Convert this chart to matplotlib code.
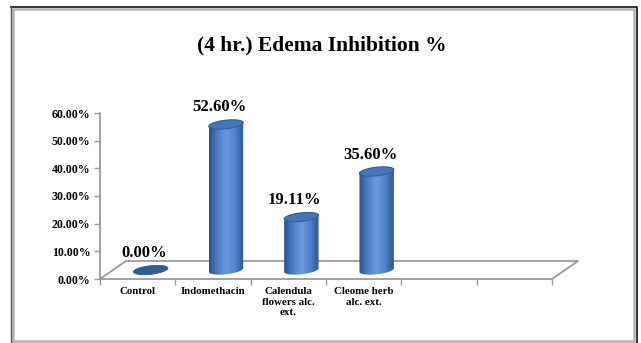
import matplotlib
matplotlib.use("Agg")
import matplotlib.pyplot as plt
import numpy as np
from matplotlib.colors import LinearSegmentedColormap
from matplotlib.patches import Polygon, Rectangle
from matplotlib.lines import Line2D

plt.rcParams['font.family'] = ['Liberation Serif', 'DejaVu Serif']
plt.rcParams['font.weight'] = 'bold'

# chart data
categories = ['Control', 'Indomethacin', 'Calendula\nflowers alc.\next.', 'Cleome herb\nalc. ext.', '', '']
values = [0.00, 52.60, 19.11, 35.60]
value_labels = ['0.00%', '52.60%', '19.11%', '35.60%']
title = '(4 hr.) Edema Inhibition %'

W, H = 641, 343
fig = plt.figure(figsize=(W / 100, H / 100), dpi=100)

# outer chart frame
fig.patches.append(Rectangle((13 / W, 1 - 341 / H), 621 / W, 332 / H, transform=fig.transFigure,
                             fill=False, edgecolor='#b4b4b4', lw=1.8))
fig.lines.append(Line2D([11 / W, 637 / W, 637 / W], [1 - 7 / H, 1 - 7 / H, 1 - 343 / H],
                        transform=fig.transFigure, color='#111111', lw=1.2))
fig.lines.append(Line2D([11 / W, 11 / W], [1 - 7 / H, 1 - 343 / H],
                        transform=fig.transFigure, color='#555555', lw=1.0))

ax = fig.add_axes([100 / W, 1 - 279 / H, 452 / W, 166 / H])
ax.set_xlim(0, 6)
ax.set_ylim(0, 60)
ax.patch.set_visible(False)
for s in ['top', 'right']:
    ax.spines[s].set_visible(False)
for s in ['left', 'bottom']:
    ax.spines[s].set_color('#9a9a9a')
    ax.spines[s].set_linewidth(1.3)

ax.set_yticks(np.arange(0, 61, 10))
ax.set_yticklabels([f'{v:.2f}%' for v in np.arange(0, 61, 10)])
ax.tick_params(axis='y', direction='out', length=4, width=1, color='#9a9a9a', pad=3,
               labelsize=8.6)
ax.set_xticks(np.arange(0, 7))
ax.set_xticklabels([])
ax.tick_params(axis='x', which='major', direction='out', length=4, width=1, color='#9a9a9a')
ax.set_xticks(np.arange(6) + 0.5, minor=True)
ax.set_xticklabels(categories, minor=True, linespacing=1.2)
ax.tick_params(axis='x', which='minor', length=0, pad=6, labelsize=7.8)

# depth of the floor in data units
dx, dy = 0.345, 6.5
ax.add_line(Line2D([0, dx, 6 + dx, 6], [0, dy, dy, 0], color='#9a9a9a', lw=1.3, clip_on=False))

r = 0.21          # cylinder half width
f = 0.26          # depth semi-axis as fraction of floor depth
a, b = f * dx, f * dy
t0 = np.arctan2(a, r)

cmap = LinearSegmentedColormap.from_list('cyl', ['#2a5287', '#4b7fc4', '#6a9be0', '#4f82c7', '#2c578f'])
grad = np.linspace(0, 1, 256).reshape(1, -1)


def ellipse_pts(cx, cy, t):
    return np.column_stack([cx + r * np.cos(t) + a * np.sin(t), cy + b * np.sin(t)])


for i, v in enumerate(values):
    cx = i + 0.5 + dx / 2
    y0 = dy / 2
    y1 = y0 + v
    if v > 0:
        top = ellipse_pts(cx, y1, np.linspace(t0, t0 + np.pi, 60))
        bot = ellipse_pts(cx, y0, np.linspace(t0 + np.pi, t0 + 2 * np.pi, 60))
        body = Polygon(np.vstack([top, bot]), closed=True, facecolor='none', edgecolor='none')
        ax.add_patch(body)
        xl = cx - np.hypot(r, a)
        xr = cx + np.hypot(r, a)
        im = ax.imshow(grad, cmap=cmap, aspect='auto', extent=[xl, xr, y0 - b, y1 + b],
                       zorder=2, interpolation='bilinear')
        im.set_clip_path(body)
        cap = ellipse_pts(cx, y1, np.linspace(0, 2 * np.pi, 80))
        ax.add_patch(Polygon(cap, closed=True, facecolor='#4377bb', edgecolor='#2f5e98',
                             lw=0.8, zorder=3))
    else:
        cap = ellipse_pts(cx, y1, np.linspace(0, 2 * np.pi, 80))
        ax.add_patch(Polygon(cap, closed=True, facecolor='#2f5f98', edgecolor='#2a568c',
                             lw=0.6, zorder=3))
    ax.annotate(value_labels[i], xy=(i + 0.5 + dx / 4, y1), xytext=(0, 17),
                textcoords='offset pixels', ha='center', va='center',
                fontsize=12, fontweight='bold', annotation_clip=False)

ax.set_xlim(0, 6)
ax.set_ylim(0, 60)

fig.text(0.502, 1 - 45 / H, title, ha='center', va='center', fontsize=15.5, fontweight='bold')

fig.savefig('out.png', dpi=100)
